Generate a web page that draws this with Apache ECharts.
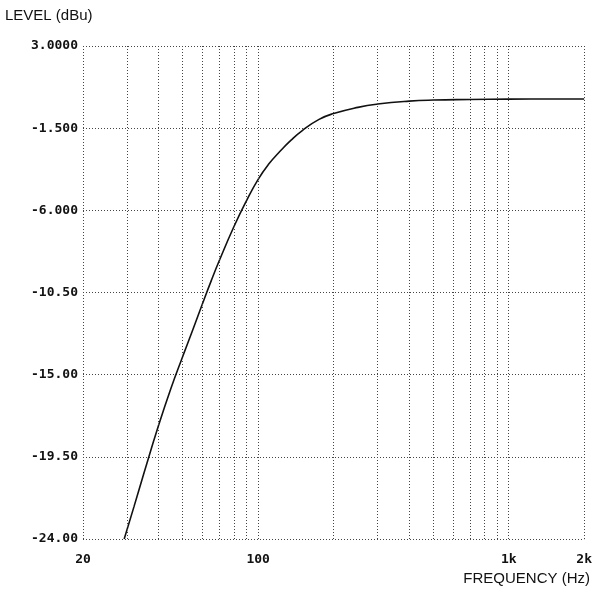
<!DOCTYPE html>
<html>
<head>
<meta charset="utf-8">
<script src="https://cdn.jsdelivr.net/npm/echarts@6/dist/echarts.min.js"></script>
<style>
  html, body { margin: 0; padding: 0; background: #fff; }
  #chart { width: 595px; height: 595px; }
</style>
</head>
<body>
<div id="chart"></div>
<script>
// high-pass response: frequency (Hz) and level (dBu)
const freqs = [29.2, 32, 35, 40, 45, 50, 55, 60, 65, 70, 80, 90, 100, 110, 122, 135, 150, 175, 200, 250, 300, 400, 500, 700, 1000, 1500, 2000]
const levels = [-24, -22.2, -20.4, -17.8, -15.7, -14.0, -12.5, -11.1, -9.85, -8.75, -6.9, -5.45, -4.3, -3.48, -2.78, -2.17, -1.63, -1.02, -0.7, -0.36, -0.18, -0.02, 0.04, 0.07, 0.09, 0.1, 0.1]

const yTicks = [3, -1.5, -6, -10.5, -15, -19.5, -24]
const yTickLabels = ['3.0000', '-1.500', '-6.000', '-10.50', '-15.00', '-19.50', '-24.00']
const xLabelValues = [20, 100, 1000, 2000]
const xLabels = ['20', '100', '1k', '2k']
const gridFreqs = [20, 30, 40, 50, 60, 70, 80, 90, 100, 200, 300, 400, 500, 600, 700, 800, 900, 1000, 2000]

const gridStyle = { color: '#444', width: 1, type: [1, 2] }
const tickFont = { fontFamily: 'DejaVu Sans Mono', fontWeight: 'bold', fontSize: 13, color: '#111' }

const chart = echarts.init(document.getElementById('chart'))
chart.setOption({
  animation: false,
  backgroundColor: '#fff',
  grid: { left: 83, right: 9, top: 46, bottom: 56 },
  xAxis: {
    type: 'log',
    logBase: 10,
    min: 20,
    max: 2000,
    axisLine: { show: false },
    axisTick: { show: false },
    splitLine: { show: false },
    axisLabel: Object.assign({
      margin: 14,
      formatter: (v) => {
        const i = xLabelValues.findIndex(x => Math.abs(x - v) < 1e-6 * x)
        return i >= 0 ? xLabels[i] : ''
      }
    }, tickFont)
  },
  yAxis: {
    type: 'value',
    min: -24,
    max: 3,
    axisLine: { show: false },
    axisTick: { show: false, customValues: yTicks },
    splitLine: { show: true, lineStyle: gridStyle },
    axisLabel: Object.assign({
      margin: 5,
      customValues: yTicks,
      formatter: (v) => {
        const i = yTicks.findIndex(t => Math.abs(t - v) < 1e-6)
        return i >= 0 ? yTickLabels[i] : ''
      }
    }, tickFont)
  },
  graphic: [
    { type: 'text', left: 5, top: 8, style: { text: 'LEVEL (dBu)', font: '15px "Liberation Sans", Arial, sans-serif', fill: '#111' } },
    { type: 'text', right: 5, top: 571, style: { text: 'FREQUENCY (Hz)', font: '15px "Liberation Sans", Arial, sans-serif', fill: '#111' } }
  ],
  series: [{
    type: 'line',
    data: freqs.map((f, i) => [f, levels[i]]),
    showSymbol: false,
    smooth: 0.5,
    lineStyle: { color: '#111', width: 1.6 },
    markLine: {
      silent: true,
      symbol: 'none',
      label: { show: false },
      lineStyle: gridStyle,
      data: gridFreqs.map(f => ({ xAxis: f }))
    }
  }]
})
</script>
</body>
</html>
